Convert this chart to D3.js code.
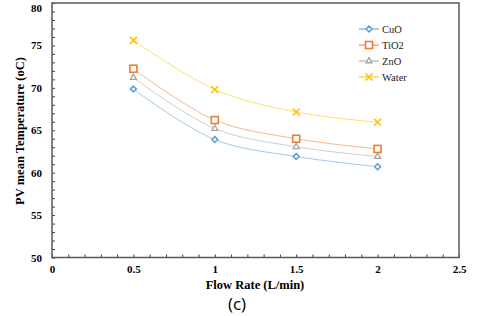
<!DOCTYPE html>
<html>
<head>
<meta charset="utf-8">
<script src="https://cdn.jsdelivr.net/npm/d3@7"></script>
<style>
  body { margin: 0; background: #fff; }
  svg text { font-family: "Liberation Serif", "Times New Roman", serif; }
</style>
</head>
<body>
<div class="chart"></div>
<script>
let width = 480
let height = 316

// data
let flowRates = [0.5, 1, 1.5, 2]
let cuo = [69.85, 63.9, 61.9, 60.7]
let tio2 = [72.25, 66.2, 64.0, 62.8]
let zno = [71.2, 65.2, 63.05, 61.9]
let water = [75.6, 69.8, 67.15, 65.95]
let seriesNames = ['CuO', 'TiO2', 'ZnO', 'Water']
let seriesColors = ['#5b9bd5', '#ed7d31', '#a5a5a5', '#ffc000']
let xTicks = [0, 0.5, 1, 1.5, 2, 2.5]
let yTicks = [50, 55, 60, 65, 70, 75, 80]

let series = [cuo, tio2, zno, water].map((vals, i) => ({
    name: seriesNames[i],
    color: seriesColors[i],
    points: vals.map((v, j) => ({ x: flowRates[j], y: v }))
}))

let x = d3.scaleLinear().domain([0, 2.5]).range([52, 459])
let y = d3.scaleLinear().domain([50, 80]).range([257.5, 3])

let svg = d3.select('div.chart')
    .append('svg')
    .attr('width', width)
    .attr('height', height)

// minor ticks (inward)
svg.append('g')
    .attr('transform', `translate(0,${y(50)})`)
    .call(d3.axisBottom(x).tickValues(d3.range(0, 2.51, 0.1)).tickSize(-3).tickFormat(''))
    .call(g => g.select('.domain').remove())
    .selectAll('line').attr('stroke', '#404040')
svg.append('g')
    .attr('transform', `translate(${x(0)},0)`)
    .call(d3.axisLeft(y).tickValues(d3.range(50, 80.1, 1)).tickSize(-3).tickFormat(''))
    .call(g => g.select('.domain').remove())
    .selectAll('line').attr('stroke', '#404040')

// tick labels
let xAxis = svg.append('g')
    .attr('transform', `translate(0,${y(50)})`)
    .call(d3.axisBottom(x).tickValues(xTicks).tickSize(0).tickPadding(8).tickFormat(d => d))
xAxis.select('.domain').remove()
xAxis.selectAll('text').style('font-size', '11px').style('font-weight', 'bold').attr('fill', '#000')

let yAxis = svg.append('g')
    .attr('transform', `translate(${x(0)},0)`)
    .call(d3.axisLeft(y).tickValues(yTicks).tickSize(0).tickPadding(10))
yAxis.select('.domain').remove()
yAxis.selectAll('text').style('font-size', '11px').style('font-weight', 'bold').attr('fill', '#000')
// top label sits at the window edge; nudge it so it stays whole
yAxis.selectAll('text').filter(d => d === 80).attr('dy', '0.75em')

// plot frame
svg.append('rect')
    .attr('x', x(0))
    .attr('y', y(80))
    .attr('width', x(2.5) - x(0))
    .attr('height', y(50) - y(80))
    .style('fill', 'none')
    .style('stroke', '#595959')
    .style('stroke-width', 1.5)

let line = d3.line()
    .x(d => x(d.x))
    .y(d => y(d.y))
    .curve(d3.curveCatmullRom.alpha(0.5))

svg.selectAll('path.series')
    .data(series)
    .enter()
    .append('path')
    .attr('class', 'series')
    .attr('d', d => line(d.points))
    .style('fill', 'none')
    .style('stroke', d => d.color)
    .style('stroke-opacity', 0.55)
    .style('stroke-width', 1)

function drawMarker(g, name, color) {
    if (name === 'CuO') {
        g.append('path').attr('d', d3.symbol(d3.symbolDiamond2, 22)())
            .style('fill', '#fff').style('stroke', color).style('stroke-width', 1.5)
    } else if (name === 'TiO2') {
        g.append('rect').attr('x', -3.5).attr('y', -3.5).attr('width', 7).attr('height', 7)
            .style('fill', '#fff').style('stroke', color).style('stroke-width', 1.6)
    } else if (name === 'ZnO') {
        g.append('path').attr('d', d3.symbol(d3.symbolTriangle2, 26)())
            .style('fill', '#fff').style('stroke', color).style('stroke-width', 1.3)
    } else {
        g.append('path').attr('d', 'M-3.5,-3.5L3.5,3.5M-3.5,3.5L3.5,-3.5')
            .style('fill', 'none').style('stroke', color).style('stroke-width', 1.6)
    }
}

series.forEach(s => {
    s.points.forEach(p => {
        let g = svg.append('g').attr('transform', `translate(${x(p.x)},${y(p.y)})`)
        drawMarker(g, s.name, s.color)
    })
})

// legend
let legend = svg.append('g')
series.forEach((s, i) => {
    let ly = 29 + i * 16
    legend.append('line')
        .attr('x1', 359).attr('x2', 379).attr('y1', ly).attr('y2', ly)
        .style('stroke', s.color).style('stroke-width', 1)
    let g = legend.append('g').attr('transform', `translate(369,${ly})`)
    drawMarker(g, s.name, s.color)
    legend.append('text')
        .attr('x', 382).attr('y', ly).attr('dy', '0.35em')
        .style('font-size', '10.5px')
        .attr('fill', '#222')
        .text(s.name)
})

// axis titles
svg.append('text')
    .attr('x', 255).attr('y', 289)
    .attr('text-anchor', 'middle')
    .style('font-size', '12.5px').style('font-weight', 'bold')
    .text('Flow Rate (L/min)')

svg.append('text')
    .attr('transform', 'translate(24,131) rotate(-90)')
    .attr('text-anchor', 'middle')
    .style('font-size', '12.5px').style('font-weight', 'bold')
    .text('PV mean Temperature (oC)')

svg.append('text')
    .attr('x', 237).attr('y', 310)
    .attr('text-anchor', 'middle')
    .style('font-size', '17px')
    .style('font-family', '"Open Sans", sans-serif')
    .text('(c)')
</script>
</body>
</html>
